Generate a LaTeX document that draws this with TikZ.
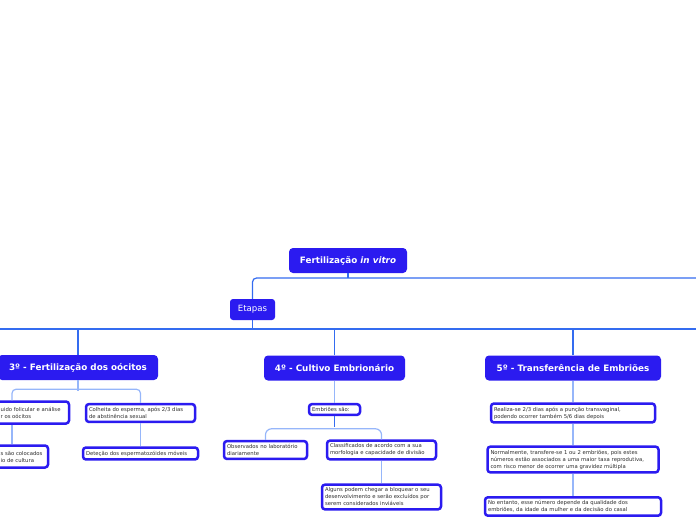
\documentclass[tikz,border=0pt]{standalone}
\usepackage{fontspec}
\setmainfont{DejaVu Sans}
\definecolor{fvblue}{RGB}{43,27,240}
\definecolor{linkblue}{RGB}{52,108,240}
\definecolor{sublinkblue}{RGB}{150,182,250}
\definecolor{leaftext}{RGB}{45,45,45}
\newcommand{\leaffont}{\fontsize{5.3}{7}\selectfont\hyphenpenalty=10000 \exhyphenpenalty=10000 }
\begin{document}
\begin{tikzpicture}[x=1pt, y=-1pt,
    topic/.style={rectangle, rounded corners=4pt, fill=fvblue, text=white, minimum height=25pt, inner xsep=4pt, font=\bfseries\fontsize{8.8}{10}\selectfont},
    etapa/.style={rectangle, rounded corners=3pt, fill=fvblue, text=white, minimum height=21pt, minimum width=45pt, inner xsep=3pt, font=\fontsize{8.6}{10}\selectfont},
    leaftxt/.style={text=leaftext, align=left, font=\leaffont},
    leaf/.style={leaftxt, rectangle, rounded corners=3pt, draw=fvblue, line width=2.5pt, fill=white, inner xsep=3pt, inner ysep=3.3pt},
    link/.style={linkblue, line width=1.2pt},
    sublink/.style={sublinkblue, line width=1.2pt}]
    \clip (0,0) rectangle (696,520);

    % tronco
    \node[topic, minimum width=118pt] (root) at (348,260.5) {Fertilização \textit{in vitro}};
    \node[etapa] (etapas) at (252.5,309.5) {Etapas};
    \coordinate (r1) at (696,278);
    \coordinate (l2) at (0,329);
    \coordinate (r2) at (696,329);

    \node[topic, minimum width=160pt] (f3) at (78,367.5) {3º - Fertilização dos oócitos};
    \node[topic, minimum width=141pt] (f4) at (334.5,368) {4º - Cultivo Embrionário};
    \node[topic, minimum width=176pt] (f5) at (573,368) {5º - Transferência de Embriões};

    % 3º
    \node[leaf, minimum width=114pt, minimum height=22pt] (a1) at (12,412.5) {};
    \node[leaftxt, anchor=west, inner sep=0pt] (a1t) at (0.5,412.5) {uido folicular e análise\\r os oócitos};
    \node[leaf, text width=103pt] (a2) at (140.5,413) {Colheita do esperma, após 2/3 dias\\de abstinência sexual};
    \node[leaf, minimum width=72pt, minimum height=22pt] (a3) at (12,456.5) {};
    \node[leaftxt, anchor=west, inner sep=0pt] (a3t) at (0.5,456.5) {s são colocados\\io de cultura};
    \node[leaf, text width=109pt] (a4) at (140.5,453.5) {Deteção dos espermatozóides móveis};

    % 4º
    \node[leaf, text width=45pt] (b1) at (334.5,409.5) {Embriões são:};
    \node[leaf, text width=77pt] (b2) at (265.5,450) {Observados no laboratório\\diariamente};
    \node[leaf, text width=103pt] (b3) at (381.5,450) {Classificados de acordo com a sua\\morfologia e capacidade de divisão};
    \node[leaf, text width=113pt] (b4) at (381.5,497) {Alguns podem chegar a bloquear o seu\\desenvolvimento e serão excluídos por\\serem considerados inviáveis};

    % 5º
    \node[leaf, text width=158pt] (c1) at (573,413) {Realiza-se 2/3 dias após a punção transvaginal,\\podendo ocorrer também 5/6 dias depois};
    \node[leaf, text width=165pt] (c2) at (573,459.5) {Normalmente, transfere-se 1 ou 2 embriões, pois estes\\números estão associados a uma maior taxa reprodutiva,\\com risco menor de ocorrer uma gravidez múltipla};
    \node[leaf, text width=170pt] (c3) at (573,506.5) {No entanto, esse número depende da qualidade dos\\embriões, da idade da mulher e da decisão do casal};

    \draw[link] (root.south) -- (root.south |- r1);
    \draw[link, rounded corners=4pt] (etapas.north) |- (r1);
    \draw[link] (l2) -- (r2);
    \draw[link] (etapas.south) -- (etapas.south |- l2);
    \draw[link] (f3.north) -- (f3.north |- l2);
    \draw[link] (f4.north) -- (f4.north |- l2);
    \draw[link] (f5.north) -- (f5.north |- l2);

    \draw[sublink] (f3.south) -- ++(0,11);
    \draw[sublink, rounded corners=4pt] (a1.north) -- ++(0,-11) -| (a2.north);
    \draw[sublink] (a1.south) -- (a3.north);
    \draw[sublink] (a2.south) -- (a4.north);

    \draw[sublink] (f4.south) -- (b1.north);
    \draw[link] (b1.south) -- ++(0,11);
    \draw[sublink, rounded corners=6pt] (b2.north) -- ++(0,-11) -| (b3.north);
    \draw[sublink] (b3.south) -- (b4.north);

    \draw[sublink] (f5.south) -- (c1.north);
    \draw[sublink] (c1.south) -- (c2.north);
    \draw[sublink] (c2.south) -- (c3.north);
\end{tikzpicture}
\end{document}
